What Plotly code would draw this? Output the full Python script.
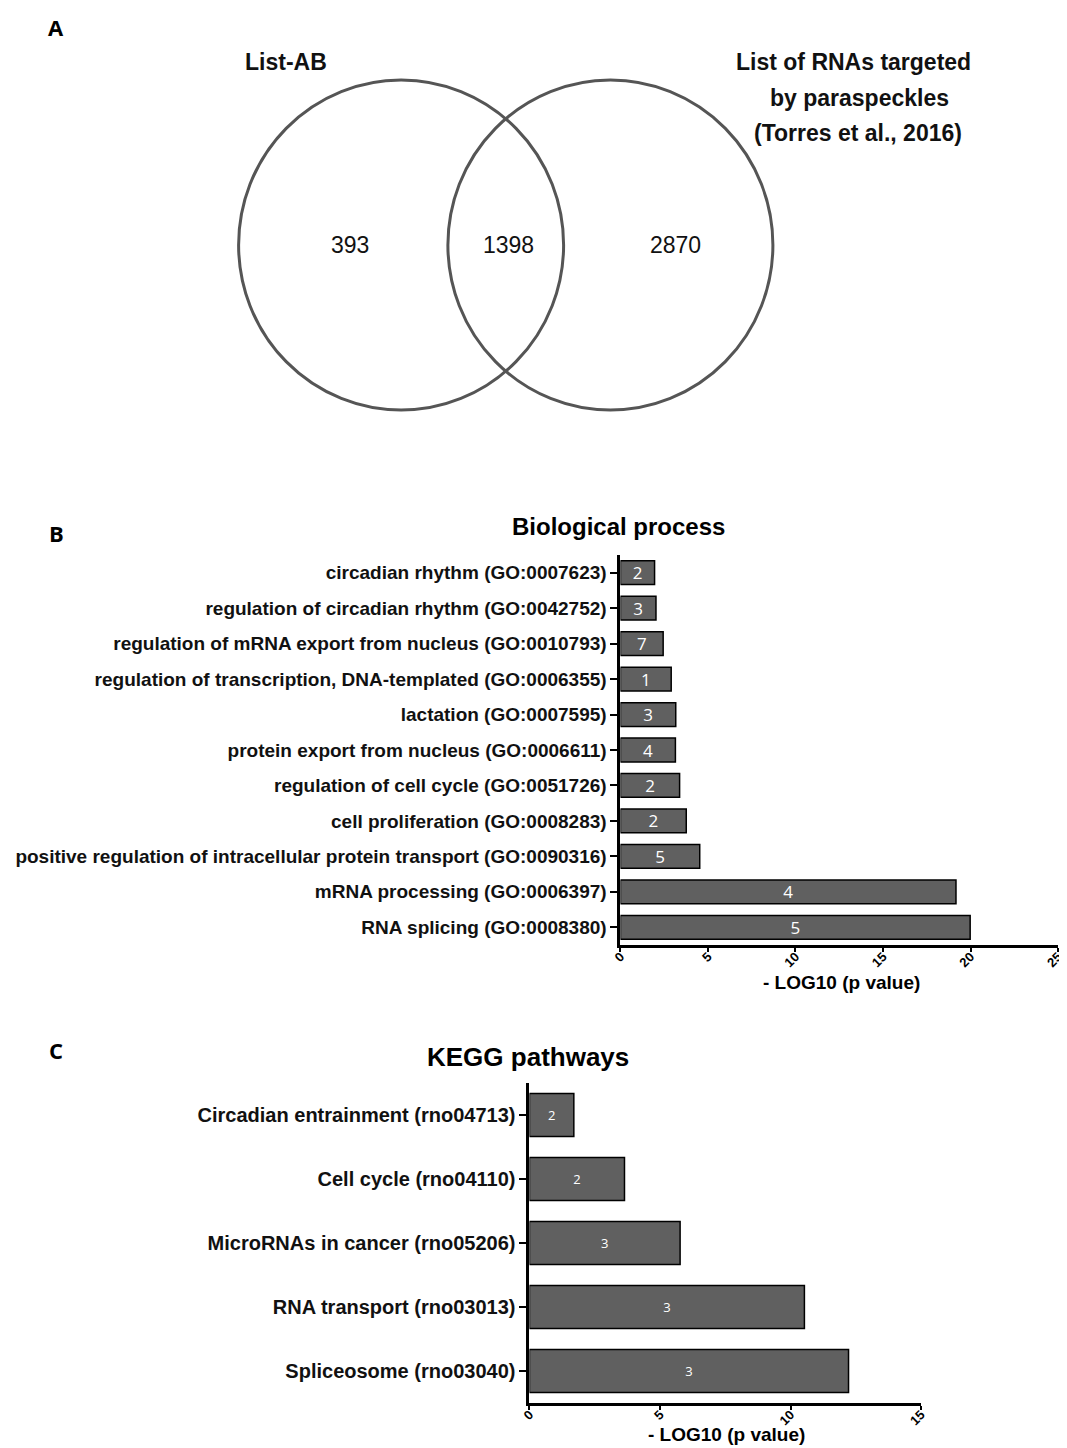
import plotly.graph_objects as go

OFF = 8                      # page body margin of the browser
FW, FH = 1067 - OFF, 1448 - OFF

# ---------------- data ----------------
venn_labels = ["List-AB", "List of RNAs targeted", "by paraspeckles", "(Torres et al., 2016)"]
venn_counts = [393, 1398, 2870]

bp_terms = [
    "circadian rhythm (GO:0007623)",
    "regulation of circadian rhythm (GO:0042752)",
    "regulation of mRNA export from nucleus (GO:0010793)",
    "regulation of transcription, DNA-templated (GO:0006355)",
    "lactation (GO:0007595)",
    "protein export from nucleus (GO:0006611)",
    "regulation of cell cycle (GO:0051726)",
    "cell proliferation (GO:0008283)",
    "positive regulation of intracellular protein transport (GO:0090316)",
    "mRNA processing (GO:0006397)",
    "RNA splicing (GO:0008380)",
]
bp_logp = [1.95, 2.03, 2.44, 2.9, 3.16, 3.14, 3.38, 3.76, 4.53, 19.17, 19.98]
bp_genes = [2, 3, 7, 1, 3, 4, 2, 2, 5, 4, 5]
bp_ticks = [0, 5, 10, 15, 20, 25]

kegg_terms = [
    "Circadian entrainment (rno04713)",
    "Cell cycle (rno04110)",
    "MicroRNAs in cancer (rno05206)",
    "RNA transport (rno03013)",
    "Spliceosome (rno03040)",
]
kegg_logp = [1.70, 3.64, 5.77, 10.53, 12.22]
kegg_genes = [2, 2, 3, 3, 3]
kegg_ticks = [0, 5, 10, 15]

# ---------------- helpers ----------------
def px_x(p):
    return (p - OFF) / FW

def px_y(p):
    return 1 - (p - OFF) / FH

BAR_FILL = "#606060"
ARIAL = "Liberation Sans, Arial, sans-serif"

fig = go.Figure()

fig.add_trace(go.Bar(
    y=bp_terms, x=bp_logp, orientation="h", text=[str(g) for g in bp_genes],
    textposition="inside", insidetextanchor="middle", textangle=0,
    constraintext="none",
    textfont=dict(color="white", size=17, family="Open Sans, sans-serif"),
    marker=dict(color=BAR_FILL, line=dict(color="black", width=1.5)),
    xaxis="x", yaxis="y", showlegend=False, hoverinfo="x+y",
))

fig.add_trace(go.Bar(
    y=kegg_terms, x=kegg_logp, orientation="h", text=[str(g) for g in kegg_genes],
    textposition="inside", insidetextanchor="middle", textangle=0,
    constraintext="none",
    textfont=dict(color="white", size=13, family="Open Sans, sans-serif"),
    marker=dict(color=BAR_FILL, line=dict(color="black", width=1.5)),
    xaxis="x2", yaxis="y2", showlegend=False, hoverinfo="x+y",
))

axis_common = dict(showgrid=False, zeroline=False, showline=True,
                   linecolor="black", linewidth=3, ticks="outside",
                   tickcolor="black", tickwidth=2)
xtick_font = dict(family=ARIAL, size=13, color="black", weight="bold")
ytick_font_b = dict(family=ARIAL, size=19, color="#111111", weight="bold")
ytick_font_c = dict(family=ARIAL, size=20, color="#111111", weight="bold")

fig.update_layout(
    width=FW, height=FH,
    margin=dict(l=0, r=0, t=0, b=0),
    paper_bgcolor="white", plot_bgcolor="white",
    bargap=0.33,
    xaxis=dict(domain=[px_x(620.7), px_x(1065)], range=[0, 25], tickvals=bp_ticks,
               tickangle=-45, ticklen=4, ticklabelstandoff=-8, tickfont=xtick_font,
               anchor="y", **axis_common),
    yaxis=dict(domain=[px_y(945), px_y(555)], range=[10.5, -0.5], type="category",
               ticklen=7, tickfont=ytick_font_b, anchor="x", **axis_common),
    xaxis2=dict(domain=[px_x(528.3), px_x(926)], range=[0, 15], tickvals=kegg_ticks,
                tickangle=-45, ticklen=4, ticklabelstandoff=-8, tickfont=xtick_font,
                anchor="y2", **axis_common),
    yaxis2=dict(domain=[px_y(1403), px_y(1083)], range=[4.5, -0.5], type="category",
                ticklen=7, tickfont=ytick_font_c, anchor="x2", **axis_common),
    xaxis3=dict(domain=[0, 1], range=[OFF, 1067], visible=False, anchor="y3"),
    yaxis3=dict(domain=[px_y(480), 1], range=[480, OFF], visible=False, anchor="x3"),
)

# Venn circles (axis-3 units equal reference screen pixels)
venn_circles = [(398, 245, 165), (610.5, 245, 165)]
for cx, cy, r in venn_circles:
    fig.add_shape(type="circle", xref="x3", yref="y3",
                  x0=cx - r, x1=cx + r, y0=cy - r, y1=cy + r,
                  line=dict(color="#555555", width=3), fillcolor="rgba(0,0,0,0)")

count_x = [346, 507, 677]
for xv, c in zip(count_x, venn_counts):
    fig.add_annotation(x=xv, y=245, xref="x3", yref="y3", text=str(c), showarrow=False,
                       xanchor="center", yanchor="middle",
                       font=dict(family=ARIAL, size=23, color="#111111"))

venn_label_pos = [(281, 62), (857, 62), (863, 98), (862, 133)]
for (xv, yv), t in zip(venn_label_pos, venn_labels):
    fig.add_annotation(x=xv, y=yv, xref="x3", yref="y3", text="<b>%s</b>" % t,
                       showarrow=False, xanchor="center", yanchor="middle",
                       font=dict(family=ARIAL, size=23, color="#111111"))

# panel letters, titles, axis titles
def paper_text(x, y, txt, size, family=ARIAL):
    fig.add_annotation(x=px_x(x), y=px_y(y), xref="paper", yref="paper",
                       text="<b>%s</b>" % txt, showarrow=False,
                       xanchor="center", yanchor="middle",
                       font=dict(family=family, size=size, color="black"))

paper_text(48, 27, "A", 22, "Open Sans, sans-serif")
paper_text(48, 533, "B", 22, "Open Sans, sans-serif")
paper_text(48, 1050, "C", 22, "Open Sans, sans-serif")
paper_text(619, 527, "Biological process", 24)
paper_text(527, 1057, "KEGG pathways", 26)
paper_text(845, 982, "- LOG10 (p value)", 19)
paper_text(728, 1434, "- LOG10 (p value)", 19)

fig.write_html("out.html")
